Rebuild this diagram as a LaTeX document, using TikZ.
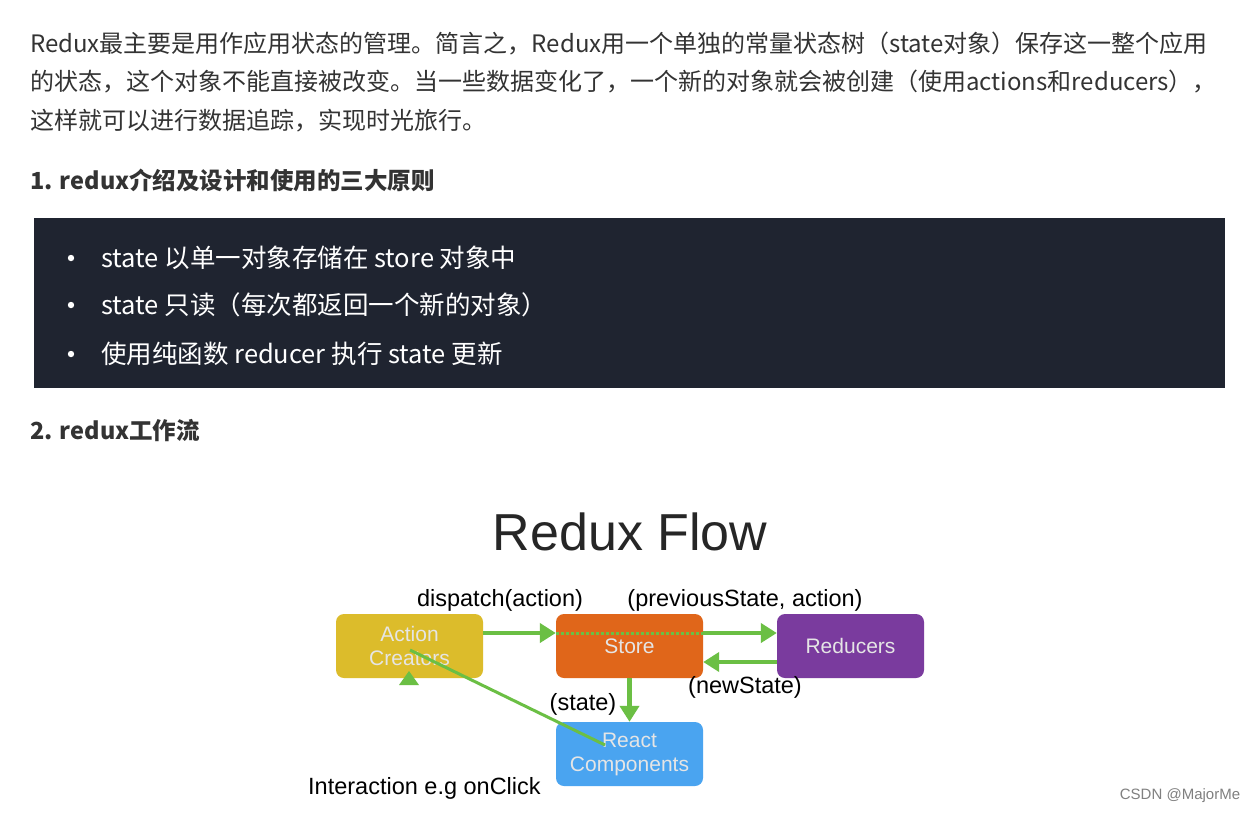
\documentclass[tikz,border=0pt]{standalone}
\usepackage{fontspec}
\setmainfont{Noto Sans CJK SC}
\newfontfamily\flowfont{Liberation Sans}
\usetikzlibrary{arrows.meta}
\definecolor{dark}{HTML}{1F2430}
\definecolor{gr}{HTML}{6BBF44}
\definecolor{ac}{HTML}{DCBC2B}
\definecolor{st}{HTML}{E0661A}
\definecolor{rd}{HTML}{7A3B9E}
\definecolor{rc}{HTML}{4AA4F0}
\definecolor{txt}{HTML}{333333}
\begin{document}
\begin{tikzpicture}[x=1pt,y=-1pt,
  para/.style={anchor=west,inner sep=0,font=\fontsize{24}{28}\selectfont,text=txt},
  head/.style={anchor=west,inner sep=0,font=\fontsize{23.5}{28}\selectfont\bfseries,text=txt},
  bul/.style={anchor=west,inner sep=0,font=\fontsize{25.5}{28}\selectfont,text=white},
  box/.style={rounded corners=8pt,minimum width=147pt,minimum height=64pt,inner sep=0,text=white!90!black,align=center,font=\flowfont\fontsize{21}{24}\selectfont},
  lab/.style={inner sep=0,font=\flowfont\fontsize{23.5}{26}\selectfont,text=black},
  arr/.style={gr,line width=4.5pt,-{Triangle[length=16pt,width=19pt]}}]
\useasboundingbox (0,0) rectangle (1246,812);
\fill[white] (0,0) rectangle (1246,812);
\node[para] (p1) at (30,44) {Redux最主要是用作应用状态的管理。简言之，Redux用一个单独的常量状态树（state对象）保存这一整个应用};
\node[para] (p2) at (30,82) {的状态，这个对象不能直接被改变。当一些数据变化了，一个新的对象就会被创建（使用actions和reducers），};
\node[para] (p3) at (30,121) {这样就可以进行数据追踪，实现时光旅行。};
\node[head] (h1) at (30,180) {1. redux介绍及设计和使用的三大原则};
\fill[dark] (34,218) rectangle (1225,388);
\foreach \y in {258,305,354} \fill[white] (71,\y) circle (3.2pt);
\node[bul] (b1) at (101,258) {state 以单一对象存储在 store 对象中};
\node[bul] (b2) at (101,305) {state 只读（每次都返回一个新的对象）};
\node[bul] (b3) at (101,354) {使用纯函数 reducer 执行 state 更新};
\node[head] (h2) at (30,431) {2. redux工作流};
\node[inner sep=0,font=\flowfont\fontsize{52}{56}\selectfont,text=black!85] (title) at (630,532) {Redux Flow};
\node[box,fill=ac] (AC) at (409.5,646) {Action\\Creators};
\node[box,fill=st] (ST) at (629.5,646) {Store};
\node[box,fill=rd] (RD) at (850.5,646) {Reducers};
\node[box,fill=rc] (RC) at (629.5,754) {React\\Components};
\draw[arr] (AC.east|-0,633) -- (ST.west|-0,633);
\draw[gr,line width=3pt,dotted] (ST.west|-0,633) -- (ST.east|-0,633);
\draw[arr] (ST.east|-0,633) -- (RD.west|-0,633);
\draw[arr] (RD.west|-0,662) -- (ST.east|-0,662);
\draw[arr] (ST.south) -- (RC.north);
\coordinate (c1) at (410,650);
\coordinate (c2) at (605,745);
\draw[gr,line width=3pt] (c1) -- (c2);
\coordinate (tip) at (409,671);
\fill[gr] (tip) -- ++(10,14) -- ++(-20,0) -- cycle;
\node[lab] (l1) at (500,600) {dispatch(action)};
\node[lab] (l2) at (745,600) {(previousState, action)};
\node[lab] (l3) at (745,687) {(newState)};
\node[lab] (l4) at (583,704) {(state)};
\node[lab,anchor=west] (l5) at (308,788) {Interaction e.g onClick};
\node[inner sep=0,font=\flowfont\fontsize{15}{17}\selectfont,text=gray] (wm) at (1180,796) {CSDN @MajorMe};
\end{tikzpicture}
\end{document}
